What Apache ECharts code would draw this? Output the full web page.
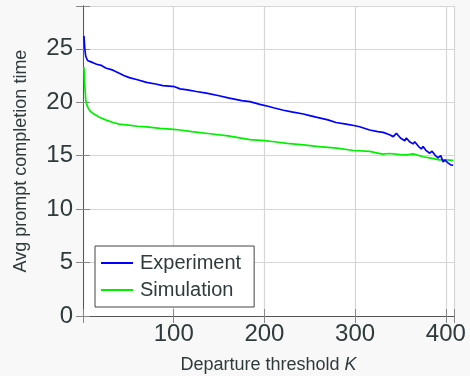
<!DOCTYPE html>
<html>
<head>
<meta charset="utf-8">
<script src="https://cdn.jsdelivr.net/npm/echarts@6/dist/echarts.min.js"></script>
<style>
html,body{margin:0;padding:0;background:#f8f8f8;}
#c{width:470px;height:376px;}
</style>
</head>
<body>
<div id="c"></div>
<script>
// Experiment series (K, avg prompt completion time)
const expK = [1,2,3,5,8,11,15,20,25,33,40,45,51,60,70,80,88,95,101,107,115,125,136,138,150,160,175,184,195,205,211,221,230,243,250,257,270,279,290,300,305,316,325,331,338,342,345.5,350,354.7,356.5,360,363.9,365.7,370,373,374.9,378,382.3,384.8,388,391.4,394.4,397,398.8,402,405.4,408];
const expT = [26.2,25.0,24.3,23.9,23.8,23.7,23.55,23.45,23.2,23.0,22.7,22.5,22.3,22.1,21.85,21.7,21.55,21.5,21.45,21.25,21.15,21.0,20.85,20.8,20.6,20.4,20.15,20.05,19.8,19.6,19.46,19.25,19.1,18.9,18.75,18.6,18.35,18.1,17.95,17.8,17.7,17.4,17.25,17.18,16.95,16.78,17.09,16.65,16.4,16.65,16.3,16.1,16.3,15.85,15.63,15.85,15.5,15.23,15.42,15.05,14.8,15.0,14.4,14.6,14.35,14.14,14.1];
// Simulation series
const simK = [1,2,3,4,6,8,11,15,18,25,33,40,50,60,70,85,100,107,120,140,160,184,200,211,225,243,260,280,298,316,330,338,350,357,364,375,385,393,400,408];
const simT = [23.3,21.5,20.2,19.8,19.4,19.15,18.95,18.75,18.6,18.35,18.1,17.95,17.85,17.75,17.7,17.55,17.45,17.4,17.25,17.05,16.85,16.5,16.4,16.3,16.15,16.0,15.85,15.7,15.48,15.4,15.15,15.2,15.1,15.07,15.17,14.9,14.75,14.6,14.6,14.55];
const seriesNames = ['Experiment','Simulation'];
const xTicks = [100,200,300,400];
const yTicks = [0,5,10,15,20,25];

const pairs = (a,b)=>a.map((k,i)=>[k,b[i]]);
const txt = '#2f3b3b';
const font = 'Liberation Sans, Arial, Helvetica, sans-serif';
const chart = echarts.init(document.getElementById('c'));
const xBase = {type:'value',min:0,max:409,interval:100};
const yBase = {type:'value',min:0,max:29,interval:5};
chart.setOption({
  backgroundColor:'#f8f8f8',
  animation:false,
  grid:{left:83,right:16,top:6,bottom:60,show:true,backgroundColor:'#ffffff',borderWidth:0,
        containLabel:false,outerBoundsMode:'none'},
  legend:{
    orient:'vertical',left:95,top:246,
    data:seriesNames,
    icon:'rect',itemWidth:32,itemHeight:2,itemGap:7,
    padding:[7,13,7,6],
    backgroundColor:'#ffffff',borderColor:'#444',borderWidth:1,
    textStyle:{fontFamily:font,fontSize:20,color:txt,padding:[0,0,0,2]}
  },
  xAxis:[
    Object.assign({},xBase,{
      position:'bottom',
      name:'Departure threshold {i|K}',nameLocation:'middle',nameGap:40,
      nameTextStyle:{fontFamily:font,fontSize:18,color:txt,rich:{i:{fontStyle:'italic',fontFamily:font,fontSize:18,color:txt}}},
      axisLine:{show:true,lineStyle:{color:'#555',width:1}},
      axisTick:{show:true,inside:true,length:7,lineStyle:{color:'#888'}},
      axisLabel:{fontFamily:font,fontSize:24,color:txt,margin:6,
        formatter:v=>xTicks.indexOf(v)>=0?String(v):''},
      splitLine:{show:true,lineStyle:{color:'#d6d6d6',width:1.2}}
    }),
    Object.assign({},xBase,{
      position:'top',
      axisLine:{show:true,lineStyle:{color:'#555',width:1}},
      axisTick:{show:true,inside:true,length:7,lineStyle:{color:'#888'}},
      axisLabel:{show:false},splitLine:{show:false}
    })
  ],
  yAxis:[
    Object.assign({},yBase,{
      position:'left',
      name:'Avg prompt completion time',nameLocation:'middle',nameGap:53,
      nameTextStyle:{fontFamily:font,fontSize:18,color:txt},
      axisLine:{show:true,lineStyle:{color:'#555',width:1}},
      axisTick:{show:true,inside:true,length:7,lineStyle:{color:'#888'}},
      axisLabel:{fontFamily:font,fontSize:24,color:txt,margin:10,
        formatter:v=>yTicks.indexOf(v)>=0?String(v):''},
      splitLine:{show:true,lineStyle:{color:'#d6d6d6',width:1.2}}
    }),
    Object.assign({},yBase,{
      position:'right',
      axisLine:{show:true,lineStyle:{color:'#555',width:1}},
      axisTick:{show:true,inside:true,length:7,lineStyle:{color:'#888'}},
      axisLabel:{show:false},splitLine:{show:false}
    })
  ],
  series:[
    {name:seriesNames[0],type:'line',xAxisIndex:0,yAxisIndex:0,showSymbol:false,symbol:'none',
     lineStyle:{color:'#0000ff',width:1.7},itemStyle:{color:'#0000ff'},data:pairs(expK,expT),z:3},
    {name:seriesNames[1],type:'line',xAxisIndex:0,yAxisIndex:0,showSymbol:false,symbol:'none',
     lineStyle:{color:'#00f000',width:1.7},itemStyle:{color:'#00f000'},data:pairs(simK,simT),z:2}
  ]
});
</script>
</body>
</html>
